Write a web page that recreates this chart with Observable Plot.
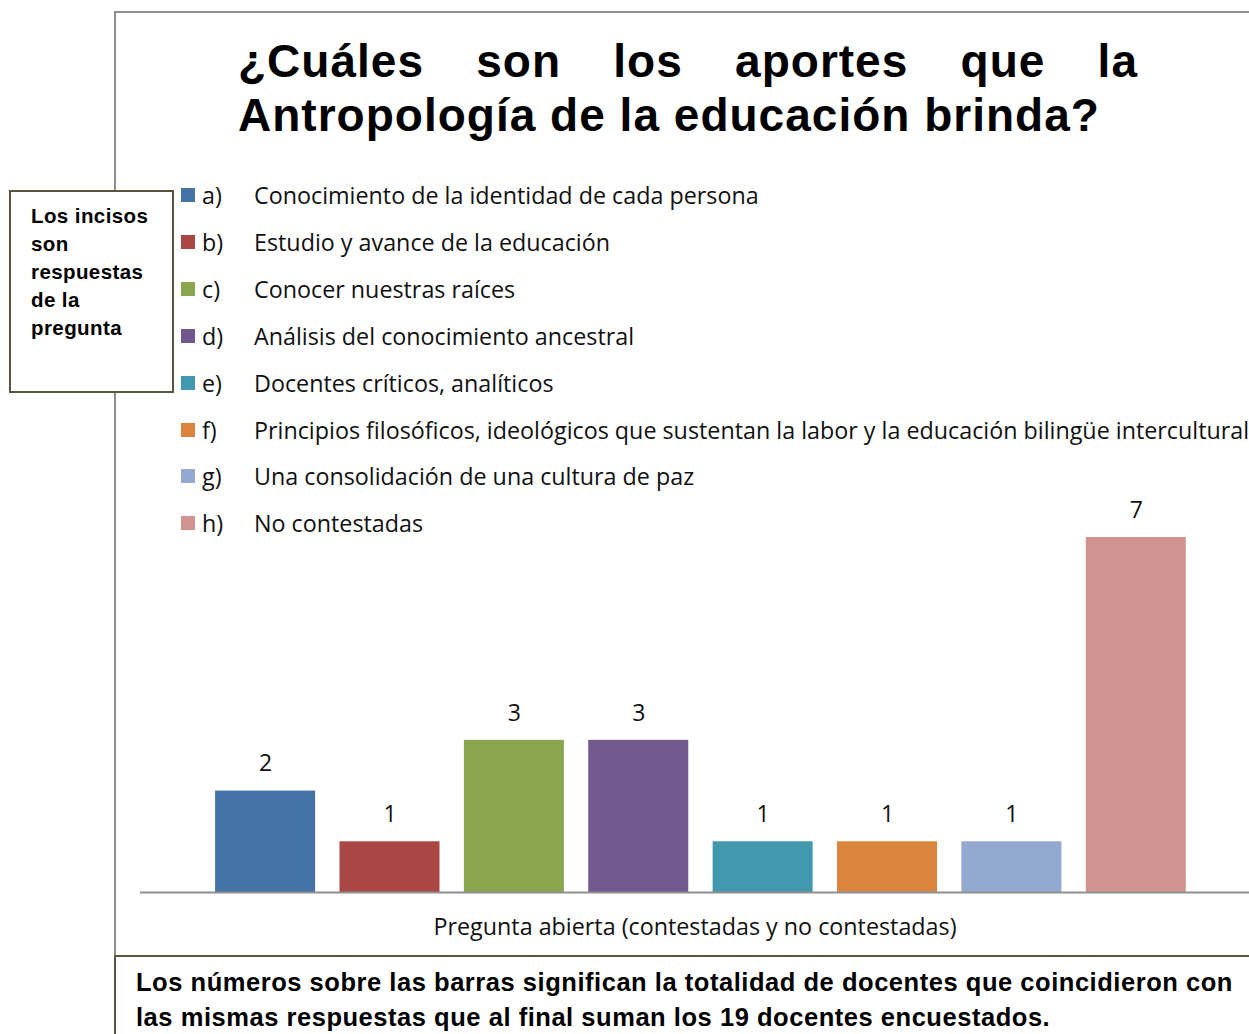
<!DOCTYPE html>
<html>
<head>
<meta charset="utf-8">
<script src="https://cdn.jsdelivr.net/npm/d3@7"></script>
<script src="https://cdn.jsdelivr.net/npm/@observablehq/plot@0.6"></script>
<style>
  html, body { margin: 0; padding: 0; background: white; }
  #page { position: relative; width: 1249px; height: 1034px; overflow: hidden; background: white; }
  .abs { position: absolute; }
  #frame { left: 114px; top: 11px; width: 1300px; height: 944px; border-left: 2px solid #8f8f8f; border-top: 2px solid #8f8f8f; box-sizing: border-box; }
  #title { left: 238px; top: 34px; width: 900px; font-family: "Liberation Sans", Arial, sans-serif; font-weight: bold; font-size: 46px; letter-spacing: 0.022em; line-height: 54px; text-align: justify; color: #000; }
  #sidebox { left: 9px; top: 190px; width: 165px; height: 203px; border: 2px solid #5b5540; box-sizing: border-box; background: white; font-family: "Liberation Sans", Arial, sans-serif; font-weight: bold; font-size: 20.5px; letter-spacing: 0.02em; line-height: 28px; padding: 10px 0 0 20px; color: #000; z-index: 3; }
  .lrow { position: absolute; height: 30px; font-family: "Open Sans", sans-serif; font-size: 23.3px; color: #111; white-space: nowrap; }
  .lsw { position: absolute; left: 0; top: 8px; width: 14px; height: 14px; }
  .lkey { position: absolute; left: 21px; top: 0; line-height: 30px; }
  .llab { position: absolute; left: 73px; top: 0; line-height: 30px; }
  #plot { left: 0; top: 480px; z-index: 1; }
  #caption { left: 114px; top: 955px; width: 1300px; height: 100px; border-left: 2px solid #5b5540; border-top: 2px solid #5b5540; box-sizing: border-box; background: white; font-family: "Liberation Sans", Arial, sans-serif; font-weight: bold; font-size: 25.5px; letter-spacing: 0.021em; line-height: 35px; padding: 8px 0 0 20px; color: #000; z-index: 2; white-space: nowrap; }
</style>
</head>
<body>
<div id="page">
  <div id="frame" class="abs"></div>
  <div id="title" class="abs">¿Cuáles son los aportes que la Antropología de la educación brinda?</div>
  <div id="legend"></div>
  <div id="sidebox" class="abs">Los incisos<br>son<br>respuestas<br>de la<br>pregunta</div>
  <div id="plot" class="abs"></div>
  <div id="caption" class="abs">Los números sobre las barras significan la totalidad de docentes que coincidieron con<br>las mismas respuestas que al final suman los 19 docentes encuestados.</div>
</div>
<script>
const keys = ["a)", "b)", "c)", "d)", "e)", "f)", "g)", "h)"];
const labels = [
  "Conocimiento de la identidad de cada persona",
  "Estudio y avance de la educación",
  "Conocer nuestras raíces",
  "Análisis del conocimiento ancestral",
  "Docentes críticos, analíticos",
  "Principios filosóficos, ideológicos que sustentan la labor y la educación bilingüe intercultural",
  "Una consolidación de una cultura de paz",
  "No contestadas"
];
const values = [2, 1, 3, 3, 1, 1, 1, 7];
const colors = ["#4572A7", "#AA4643", "#89A54E", "#71588F", "#4198AF", "#DB843D", "#93A9CF", "#D19392"];
const axisLabel = "Pregunta abierta (contestadas y no contestadas)";

const data = keys.map((k, i) => ({key: k, label: labels[i], value: values[i]}));

// Legend (HTML)
const legend = document.getElementById("legend");
data.forEach((d, i) => {
  const row = document.createElement("div");
  row.className = "lrow";
  row.style.left = "181px";
  row.style.top = (180 + i * 46.9) + "px";
  row.innerHTML = `<div class="lsw" style="background:${colors[i]}"></div><div class="lkey">${d.key}</div><div class="llab">${d.label}</div>`;
  legend.appendChild(row);
});

const chart = Plot.plot({
  width: 1249,
  height: 470,
  marginLeft: 140,
  marginRight: 0,
  marginTop: 57,
  marginBottom: 58,
  style: {background: "transparent", fontFamily: "'Open Sans', sans-serif", overflow: "visible"},
  x: {domain: keys, paddingInner: 0.196, paddingOuter: 0.556, align: 0.543, round: false, axis: null},
  y: {domain: [0, 7], axis: null},
  color: {domain: keys, range: colors},
  marks: [
    Plot.barY(data, {x: "key", y: "value", fill: "key"}),
    Plot.ruleY([0], {stroke: "#8f8f8f", strokeWidth: 2}),
    Plot.text(data, {x: "key", y: "value", text: d => String(d.value), dy: -27, fontSize: 23, fill: "#111"}),
    Plot.text([axisLabel], {frameAnchor: "bottom", dy: 42, fontSize: 23.3, fill: "#111"})
  ]
});
document.getElementById("plot").appendChild(chart);
</script>
</body>
</html>
